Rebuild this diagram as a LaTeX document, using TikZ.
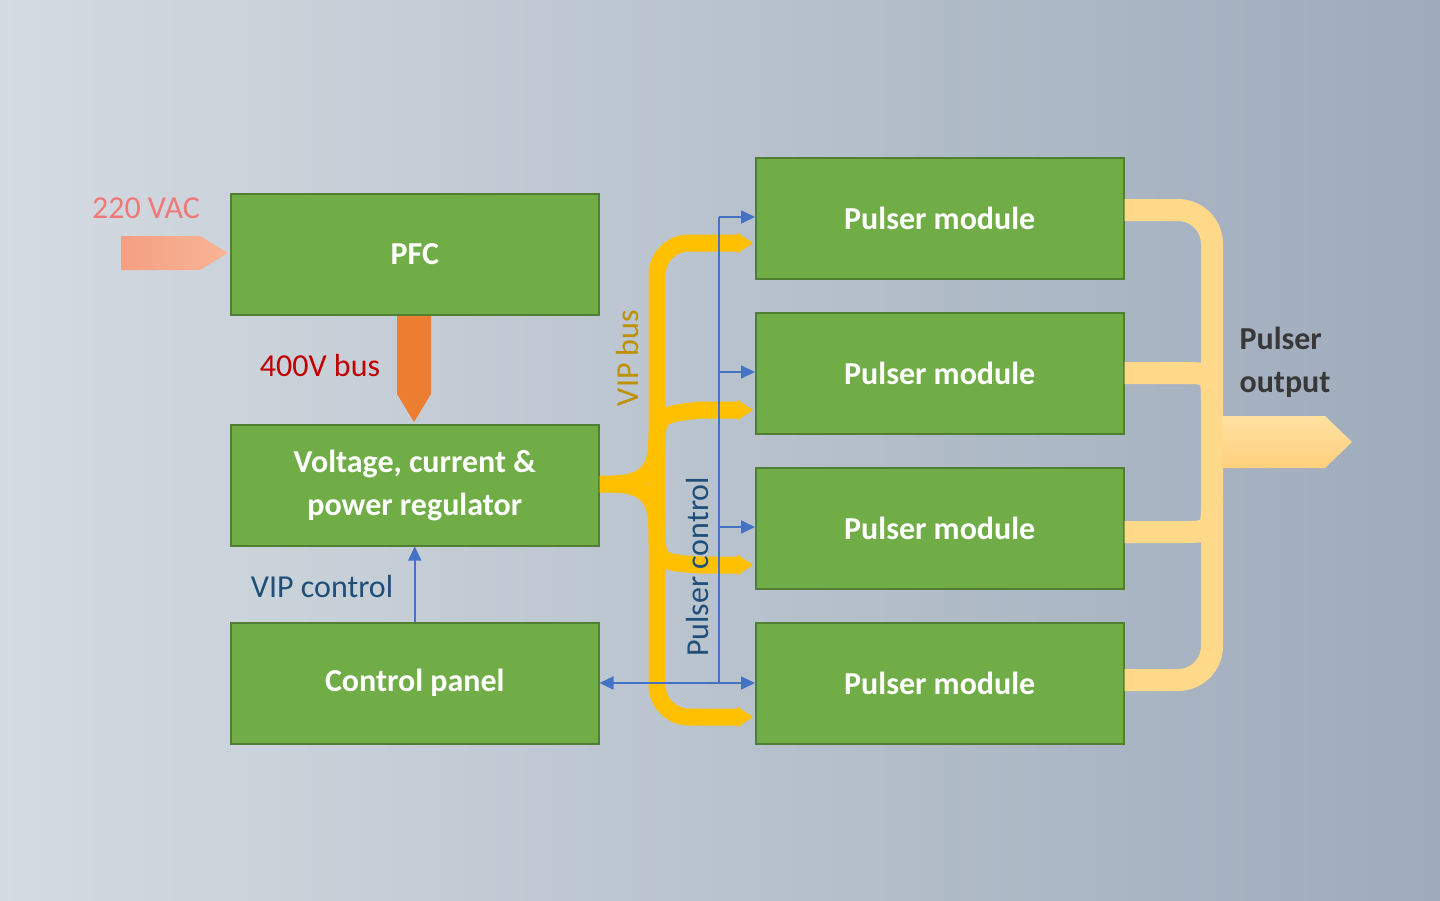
\documentclass[tikz,border=0pt]{standalone}
\usepackage{fontspec}
\setmainfont{Carlito}
\usetikzlibrary{arrows.meta}
\definecolor{boxg}{HTML}{70AD47}
\definecolor{boxb}{HTML}{507E32}
\definecolor{vip}{HTML}{FFC000}
\definecolor{outb}{HTML}{FFD98A}
\definecolor{ctl}{HTML}{4472C4}
\definecolor{txtb}{HTML}{1F4E79}
\definecolor{bgl}{HTML}{D4DBE1}
\definecolor{bgr}{HTML}{9EABBB}
\begin{document}
\begin{tikzpicture}[x=1pt,y=-1pt,
  box/.style={draw=boxb,line width=1.5pt,fill=boxg,minimum width=368pt,minimum height=121pt,
    font=\fontsize{32}{43}\selectfont\bfseries,text=white,align=center,anchor=north west,inner sep=0pt},
  vbus/.style={draw=vip,line width=17pt},
  obus/.style={draw=outb,line width=22pt},
  ctla/.style={draw=ctl,line width=1.6pt,-{Triangle[length=14pt,width=13pt]}},
  lab/.style={font=\fontsize{32}{38}\selectfont}]
\shade[left color=bgl, right color=bgr] (0,0) rectangle (1440,900);
\useasboundingbox (0,0) rectangle (1440,900);
% boxes
\node[box] (pfc) at (230,193) {PFC};
\node[box] (reg) at (230,424) {Voltage, current \&\\ power regulator};
\node[box] (cp) at (230,622) {Control panel};
\node[box] (p1) at (755,157) {Pulser module};
\node[box] (p2) at (755,312) {Pulser module};
\node[box] (p3) at (755,467) {Pulser module};
\node[box] (p4) at (755,622) {Pulser module};
% 220 VAC
\shade[left color={rgb,255:red,244;green,160;blue,130},right color={rgb,255:red,248;green,180;blue,150}] (121,236) -- (200,236) -- (228,253) -- (200,270) -- (121,270) -- cycle;
\node[lab,text={rgb,255:red,240;green,120;blue,120}] (vac) at (146,208) {220 VAC};
% 400V bus
\fill[fill={rgb,255:red,237;green,125;blue,49}] (397,316) -- (431,316) -- (431,394) -- (414,422) -- (397,394) -- cycle;
\node[lab,text={rgb,255:red,192;green,0;blue,0}] (b400) at (320,366) {400V bus};
% VIP control
\draw[ctla] (cp.north) -- (reg.south);
\node[lab,text=txtb] (vipc) at (322,586) {VIP control};
% VIP bus
\draw[vbus,rounded corners=32pt] (738,243) -- (657,243) -- (657,717) -- (738,717);
\draw[vbus] (657,450) .. controls (657,415) .. (700,410) -- (738,410);
\draw[vbus] (657,525) .. controls (657,562) .. (700,565) -- (738,565);
\draw[vbus] (reg.east|-0,484) -- (612,484) .. controls (645,484) and (657,470) .. (657,440);
\draw[vbus] (612,484) .. controls (645,484) and (657,498) .. (657,528);
\foreach \y in {243,410,565,717}{\fill[vip] (737,\y-10.5) .. controls (744,\y-6) .. (753,\y) .. controls (744,\y+6) .. (737,\y+10.5) -- cycle;}
\node[lab,text={rgb,255:red,191;green,144;blue,0},rotate=90] (vipb) at (627,358) {VIP bus};
% Pulser control
\coordinate (pc) at (719,683);
\draw[ctl,line width=1.6pt] (pc) -- (719,217);
\draw[ctla] (719,217) -- (p1.west|-0,217);
\draw[ctla] (719,372) -- (p2.west|-0,372);
\draw[ctla] (719,527) -- (p3.west|-0,527);
\draw[ctla,{Triangle[length=14pt,width=13pt]}-{Triangle[length=14pt,width=13pt]}] (cp.east|-0,683) -- (p4.west|-0,683);
\node[lab,text=txtb,rotate=90] (pcl) at (697,567) {Pulser control};
% output bus
\draw[obus,rounded corners=34pt] (p1.east|-0,210) -- (1212,210) -- (1212,680) -- (p4.east|-0,680);
\draw[obus] (p2.east|-0,373) -- (1180,373) .. controls (1212,373) .. (1212,405);
\draw[obus] (p3.east|-0,532) -- (1180,532) .. controls (1212,532) .. (1212,500);
\shade[top color=outb!80!white,bottom color=outb!90!orange] (1222,416) -- (1325,416) -- (1352,442) -- (1325,468) -- (1222,468) -- cycle;
\node[font=\fontsize{32}{43}\selectfont\bfseries,text=black!78,align=left,anchor=west] (po) at (1236,362) {Pulser\\output};
\end{tikzpicture}
\end{document}
